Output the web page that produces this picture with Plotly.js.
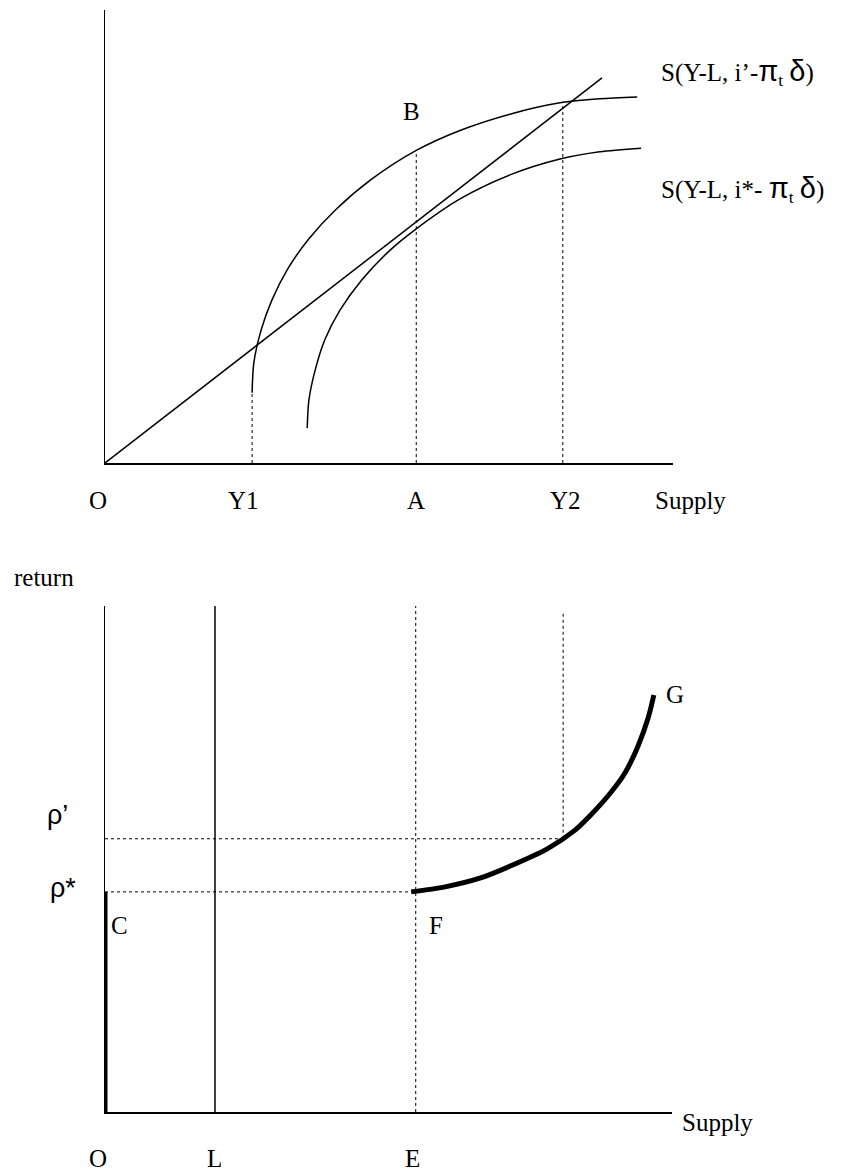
<!DOCTYPE html>
<html>
<head>
<meta charset="utf-8">
<script src="https://cdn.plot.ly/plotly-3.0.1.min.js"></script>
<style>html,body{margin:0;padding:0;background:#fff;}</style>
</head>
<body>
<div id="chart" style="width:842px;height:1173px;"></div>
<script>
// ---------- Top panel data (Supply units 0-100, savings units 0-100) ----------
const y1Pos = 25.9;
const aPos = 54.8;
const y2Pos = 80.6;
const diagX = [0, 87.5];
const diagY = [0, 85.0];
const upperX = [25.9, 26.2, 27.5, 29.4, 32.2, 35.9, 40.7, 47.0, 54.8, 62.5, 71.3, 80.1, 87.1, 93.7];
const upperY = [15.5, 22.1, 29.4, 36.0, 42.9, 49.5, 56.0, 62.7, 69.0, 73.4, 77.0, 79.5, 80.4, 80.8];
const lowerX = [35.6, 35.9, 37.0, 38.7, 41.4, 45.2, 50.2, 54.8, 62.5, 71.3, 80.1, 87.1, 94.4];
const lowerY = [7.7, 13.9, 20.5, 27.2, 33.8, 40.4, 47.0, 51.7, 58.3, 63.6, 67.1, 68.7, 69.5];
const dropTops = [15.5, 69.0, 79.8];
const topTickLabels = ["O", "Y1", "A", "Y2"];
const topTickPos = [-1.2, 24.3, 54.8, 81.0];
const greek = (s) => "<span style=\"font-family:'Liberation Sans';font-size:29px\">" + s + "</span>";
const curveLabels = ["S(Y-L, i’-" + greek("π") + "<sub>t</sub> " + greek("δ") + ")",
                     "S(Y-L, i*- " + greek("π") + "<sub>t</sub> " + greek("δ") + ")"];
const curveLabelY = [86.1, 60.3];

// ---------- Bottom panel data ----------
const lPos = 19.4;
const ePos = 54.8;
const y2PosB = 80.8;
const rhoStar = 43.5;
const rhoPrime = 54.0;
const fgX = [54.0, 60.0, 66.1, 72.3, 78.0, 82.9, 85.5, 89.1, 91.7, 94.0, 95.8, 96.8];
const fgY = [43.5, 44.5, 46.2, 49.0, 52.0, 55.7, 58.5, 63.0, 67.0, 72.3, 77.9, 82.4];
const botTickLabels = ["O", "L", "E"];
const botTickPos = [-1.2, 19.4, 54.3];

const serif = "Liberation Serif, Times New Roman, serif";
const black = "#000";

const topXDom = [105/842, 673/842], topYDom = [1 - 463/1173, 1 - 10/1173];
const botXDom = [105/842, 672/842], botYDom = [1 - 1112/1173, 1 - 606/1173];
const rng = [0, 100];

const traces = [];
function line(x, y, xa, ya, width, dash) {
  traces.push({x: x, y: y, xaxis: xa, yaxis: ya, mode: "lines", type: "scatter",
    line: {color: black, width: width, dash: dash || "solid", shape: "linear"},
    cliponaxis: false, hoverinfo: "skip", showlegend: false});
}
function curve(x, y, xa, ya, width) {
  traces.push({x: x, y: y, xaxis: xa, yaxis: ya, mode: "lines", type: "scatter",
    line: {color: black, width: width, shape: "spline", smoothing: 0.8},
    cliponaxis: false, hoverinfo: "skip", showlegend: false});
}

// top panel
line(diagX, diagY, "x", "y", 1.5);
curve(upperX, upperY, "x", "y", 1.5);
curve(lowerX, lowerY, "x", "y", 1.5);
[y1Pos, aPos, y2Pos].forEach((p, i) => line([p, p], [0, dropTops[i]], "x", "y", 1, "dot"));

// bottom panel
line([0, 0], [0, rhoStar], "x2", "y2", 5);
line([lPos, lPos], [0, 100], "x2", "y2", 1.5);
line([ePos, ePos], [0, 100], "x2", "y2", 1, "dot");
line([y2PosB, y2PosB], [rhoPrime, 98.8], "x2", "y2", 1, "dot");
line([0, y2PosB], [rhoPrime, rhoPrime], "x2", "y2", 1, "dot");
line([0, fgX[0]], [rhoStar, rhoStar], "x2", "y2", 1, "dot");
curve(fgX, fgY, "x2", "y2", 5);

// convert axis values to paper fractions (annotations outside the axis range are otherwise hidden)
function px(v, dom) { return dom[0] + (v - rng[0]) / (rng[1] - rng[0]) * (dom[1] - dom[0]); }

const ann = [];
function txt(text, x, y, panel, anchor, font) {
  const xd = panel === 1 ? topXDom : botXDom, yd = panel === 1 ? topYDom : botYDom;
  ann.push({text: text, x: px(x, xd), y: px(y, yd), xref: "paper", yref: "paper", showarrow: false,
    xanchor: anchor || "center", yanchor: "middle",
    font: font || {family: serif, size: 25, color: black}});
}
const sans = {family: "Liberation Sans, Arial, sans-serif", size: 27, color: black};
// top labels
txt("B", 53.9, 77.5, 1);
curveLabels.forEach((t, i) => txt(t, 97.5, curveLabelY[i], 1, "left"));
topTickLabels.forEach((t, i) => txt(t, topTickPos[i], -8.2, 1));
txt("Supply", 96.5, -8.2, 1, "left");
// bottom labels
txt("return", -10.8, 105.7, 2);
txt("ρ’", -8.3, 58.7, 2, "center", sans);
txt("ρ*", -7.4, 44.3, 2, "center", sans);
txt("C", 2.5, 36.8, 2);
txt("F", 58.4, 36.8, 2);
txt("G", 100.5, 82.6, 2);
botTickLabels.forEach((t, i) => txt(t, botTickPos[i], -9.1, 2));
txt("Supply", 101.4, -2.0, 2, "left");

const axBase = {showgrid: false, zeroline: false, showticklabels: false, ticks: "",
  showline: true, linecolor: black, fixedrange: true, range: rng};

const layout = {
  width: 842, height: 1173,
  margin: {l: 0, r: 0, t: 0, b: 0, pad: 0},
  paper_bgcolor: "#fff", plot_bgcolor: "rgba(0,0,0,0)",
  showlegend: false,
  xaxis: Object.assign({}, axBase, {domain: topXDom, anchor: "y", linewidth: 1.5}),
  yaxis: Object.assign({}, axBase, {domain: topYDom, anchor: "x", linewidth: 1.5}),
  xaxis2: Object.assign({}, axBase, {domain: botXDom, anchor: "y2", linewidth: 1.5}),
  yaxis2: Object.assign({}, axBase, {domain: botYDom, anchor: "x2", linewidth: 1.2}),
  annotations: ann
};

Plotly.newPlot("chart", traces, layout, {displayModeBar: false, staticPlot: true});
</script>
</body>
</html>
